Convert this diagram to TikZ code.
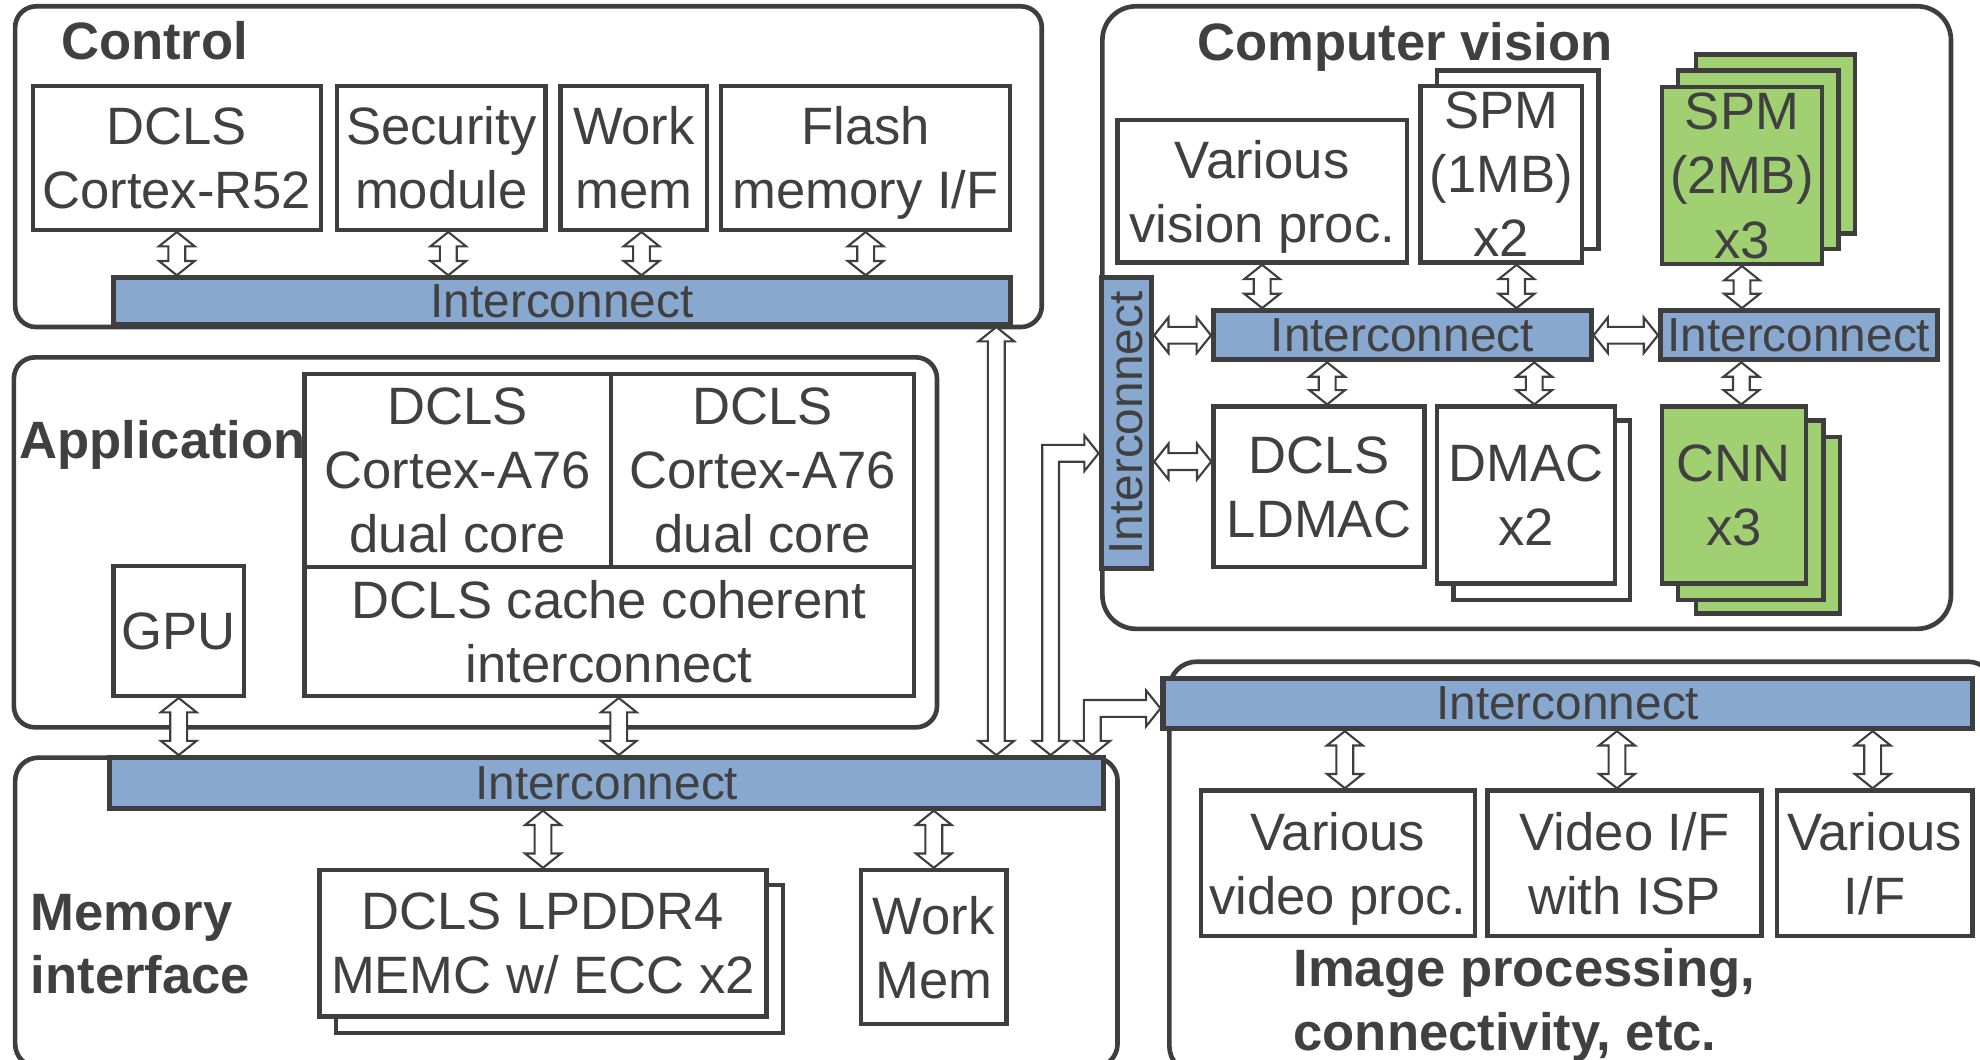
\documentclass[tikz,border=0pt]{standalone}
\usepackage{fontspec}
\setmainfont{Liberation Sans}
\usepackage{graphicx}
\usetikzlibrary{calc}
\definecolor{lc}{RGB}{62,62,62}
\definecolor{tc}{RGB}{64,64,64}
\definecolor{icblue}{RGB}{136,168,208}
\definecolor{cvgreen}{RGB}{161,208,115}
\newcommand\txtfont{\fontsize{25}{30.5}\selectfont}
\newcommand\icfont{\fontsize{22.7}{27}\selectfont}
\newcommand\ttlfont{\fontsize{25}{30}\selectfont\bfseries}
\def\arHW{8.5pt}\def\arSW{4pt}\def\arHL{6.8pt}
\newcommand\vDarrow[2]{\path[arr] let \p1=#1, \p2=#2 in (\x1,\y1) -- (\x1+\arHW,\y1-\arHL) -- (\x1+\arSW,\y1-\arHL) -- (\x1+\arSW,\y2+\arHL) -- (\x1+\arHW,\y2+\arHL) -- (\x1,\y2) -- (\x1-\arHW,\y2+\arHL) -- (\x1-\arSW,\y2+\arHL) -- (\x1-\arSW,\y1-\arHL) -- (\x1-\arHW,\y1-\arHL) -- cycle;}
\newcommand\hDarrow[2]{\path[arr] let \p1=#1, \p2=#2 in (\x1,\y1) -- (\x1+\arHL,\y1+\arHW) -- (\x1+\arHL,\y1+\arSW) -- (\x2-\arHL,\y1+\arSW) -- (\x2-\arHL,\y1+\arHW) -- (\x2,\y1) -- (\x2-\arHL,\y1-\arHW) -- (\x2-\arHL,\y1-\arSW) -- (\x1+\arHL,\y1-\arSW) -- (\x1+\arHL,\y1-\arHW) -- cycle;}
\newcommand\bDarrow[2]{\path[arr] let \p1=#1, \p2=#2 in (\x1,\y1) -- (\x1+\arHW,\y1+\arHL) -- (\x1+\arSW,\y1+\arHL) -- (\x1+\arSW,\y2-\arSW) -- (\x2-\arHL,\y2-\arSW) -- (\x2-\arHL,\y2-\arHW) -- (\x2,\y2) -- (\x2-\arHL,\y2+\arHW) -- (\x2-\arHL,\y2+\arSW) -- (\x1-\arSW,\y2+\arSW) -- (\x1-\arSW,\y1+\arHL) -- (\x1-\arHW,\y1+\arHL) -- cycle;}
% box node from corner (x1,y1) to (x2,y2) in picture units
\newcommand\bnode[7][box]{\pgfmathsetmacro\bcx{(#3+#5)/2}\pgfmathsetmacro\bcy{(#4+#6)/2}\pgfmathsetmacro\bw{(#5-#3)*0.6}\pgfmathsetmacro\bh{(#6-#4)*0.6}\node[#1, minimum width=\bw pt, minimum height=\bh pt] (#2) at (\bcx,\bcy) {#7};}
\tikzset{
 box/.style={draw=lc, line width=2.1pt, fill=white, inner sep=0pt, align=center, text=tc, font=\txtfont, text depth=0pt},
 gbox/.style={box, fill=cvgreen},
 shadowbox/.style={draw=lc, line width=2.1pt, fill=white},
 gshadow/.style={shadowbox, fill=cvgreen},
 icbar/.style={draw=lc, line width=2.4pt, fill=icblue, inner sep=0pt, text=tc, font=\icfont, text depth=0pt},
 cont/.style={draw=lc, line width=2.2pt},
 ttl/.style={text=tc, font=\ttlfont, inner sep=0pt, align=left},
 arr/.style={draw=lc, line width=1pt, fill=white, line join=miter},
}
\begin{document}
\begin{tikzpicture}[x=0.6pt,y=-0.6pt]
\useasboundingbox (0,0) rectangle (1568,839);
\clip (0,0) rectangle (1568,839);
% containers
\draw[cont, rounded corners=10pt] (12,5) rectangle (825,259);
\draw[cont, rounded corners=10pt] (11,283) rectangle (742,576);
\draw[cont, rounded corners=11pt] (12,600) rectangle (885,845);
\draw[cont, rounded corners=16pt] (873,5) rectangle (1545,498);
\draw[cont, rounded corners=13pt] (926,524) rectangle (1580,850);
% titles
\node[ttl, anchor=base west] (tctl) at (48,47) {Control};
\node[ttl, anchor=base west] (tcv) at (948,48) {Computer vision};
\node[ttl, anchor=north west] (tmem) at (24,708) {Memory\\interface};
\node[ttl, anchor=north west] (timg) at (1024,751) {Image processing,\\connectivity, etc.};
% control
\bnode{r52}{26}{68}{254}{182}{DCLS\\Cortex-R52}
\bnode{sec}{267}{68}{432}{182}{Security\\module}
\bnode{wmem}{444}{68}{560}{182}{Work\\mem}
\bnode{flash}{571}{68}{800}{182}{Flash\\memory I/F}
\bnode[icbar]{ctlbar}{90}{220}{800}{257}{Interconnect}
% application
\bnode{a76a}{241}{296}{484}{449}{DCLS\\Cortex-A76\\dual core}
\bnode{a76b}{484}{296}{724}{449}{DCLS\\Cortex-A76\\dual core}
\bnode{cci}{241}{449}{724}{551}{DCLS cache coherent\\interconnect}
\bnode{gpu}{90}{448}{193}{551}{GPU}
\node[ttl, anchor=base west] (tapp) at (15,363) {Application};
% memory
\bnode[icbar]{membar}{87}{600}{874}{640}{Interconnect}
\draw[shadowbox] (266,701) rectangle (620,818);
\bnode{lpddr}{253}{689}{607}{805}{DCLS LPDDR4\\MEMC w/ ECC x2}
\bnode{wm2}{682}{689}{797}{811}{Work\\Mem}
% computer vision
\bnode{vvp}{885}{95}{1114}{208}{Various\\vision proc.}
\draw[shadowbox] (1138,56) rectangle (1266,197);
\bnode{spm1}{1125}{68}{1253}{208}{SPM\\(1MB)\\x2}
\draw[gshadow] (1343,43) rectangle (1469,185);
\draw[gshadow] (1329,56) rectangle (1456,197);
\bnode[gbox]{spm2}{1316}{69}{1443}{209}{SPM\\(2MB)\\x3}
\bnode[icbar]{cvbar}{961}{246}{1260}{285}{Interconnect}
\bnode[icbar]{rbar}{1315}{246}{1534}{285}{Interconnect}
\bnode[icbar]{vbar}{872}{220}{912}{450}{\rotatebox{90}{Interconnect}}
\bnode{ldmac}{961}{322}{1128}{449}{DCLS\\LDMAC}
\draw[shadowbox] (1151,333) rectangle (1291,475);
\bnode{dmac}{1138}{322}{1279}{462}{DMAC\\x2}
\draw[gshadow] (1343,346) rectangle (1457,486);
\draw[gshadow] (1329,333) rectangle (1444,475);
\bnode[gbox]{cnn}{1316}{322}{1430}{462}{CNN\\x3}
% image processing
\bnode[icbar]{ipbar}{921}{537}{1562}{577}{Interconnect}
\bnode{vvid}{951}{626}{1168}{741}{Various\\video proc.}
\bnode{vif}{1178}{626}{1395}{741}{Video I/F\\with ISP}
\bnode{vario}{1407}{626}{1562}{741}{Various\\I/F}
% arrows: control
\vDarrow{(r52.south)}{(ctlbar.north)}
\vDarrow{($(sec.south)+(5.5,0)$)}{(ctlbar.north)}
\vDarrow{($(wmem.south)+(6,0)$)}{(ctlbar.north)}
\vDarrow{(flash.south)}{(ctlbar.north)}
% application to memory
\vDarrow{(gpu.south)}{(membar.north)}
\vDarrow{($(cci.south)+(7.5,0)$)}{(membar.north)}
\vDarrow{(membar.south -| lpddr.north)}{(lpddr.north)}
\vDarrow{(membar.south -| wm2.north)}{(wm2.north)}
% long links
\vDarrow{($(ctlbar.south east)+(-13,0)$)}{(membar.north)}
\bDarrow{($(membar.north east)+(-44,0)$)}{($(vbar.west)+(0,24)$)}
\bDarrow{($(membar.north east)+(-11,0)$)}{($(ipbar.west)+(0,4)$)}
% computer vision
\vDarrow{(vvp.south)}{(cvbar.north)}
\vDarrow{($(spm1.south)+(12,0)$)}{(cvbar.north)}
\vDarrow{(spm2.south)}{(rbar.north)}
\vDarrow{($(cvbar.south -| ldmac.north)+(6.5,0)$)}{(ldmac.north)}
\vDarrow{($(cvbar.south -| dmac.north)+(6.5,0)$)}{(dmac.north)}
\vDarrow{($(rbar.south -| cnn.north)+(6,0)$)}{(cnn.north)}
\hDarrow{(vbar.east |- cvbar.west)}{(cvbar.west)}
\hDarrow{($(vbar.east |- ldmac.west)+(0,-20)$)}{(ldmac.west)}
\hDarrow{(cvbar.east)}{(rbar.west)}
% image processing
\vDarrow{($(ipbar.south -| vvid.north)+(5.5,0)$)}{(vvid.north)}
\vDarrow{($(ipbar.south -| vif.north)+(-6,0)$)}{(vif.north)}
\vDarrow{($(ipbar.south -| vario.north)+(-1.5,0)$)}{(vario.north)}
\end{tikzpicture}
\end{document}
